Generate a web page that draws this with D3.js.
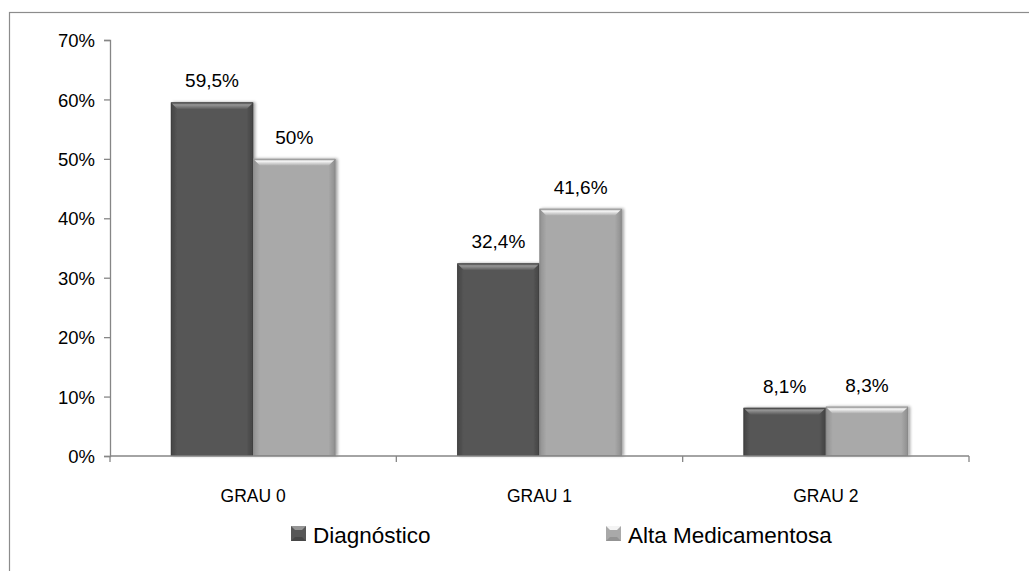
<!DOCTYPE html>
<html>
<head>
<meta charset="utf-8">
<script src="https://cdn.jsdelivr.net/npm/d3@7"></script>
<style>
  html, body { margin: 0; padding: 0; background: #fff; }
  svg { display: block; }
  text { font-family: "Liberation Sans", Arial, sans-serif; fill: #000; }
</style>
</head>
<body>
<svg id="chart" width="1029" height="571"></svg>
<script>
// Categories, series and values (shares)
const categories = ["GRAU 0", "GRAU 1", "GRAU 2"];
const seriesNames = ["Diagnóstico", "Alta Medicamentosa"];
const diagnostico = [0.595, 0.324, 0.081];
const altaMedicamentosa = [0.50, 0.416, 0.083];
const valueLabels = [["59,5%", "50%"], ["32,4%", "41,6%"], ["8,1%", "8,3%"]];
const yTicks = [0, 0.1, 0.2, 0.3, 0.4, 0.5, 0.6, 0.7];

const seriesValues = [diagnostico, altaMedicamentosa];
const palette = [
  { base: "#575757", light: "#959595", dark: "#404040", edge: "#3c3c3c" },
  { base: "#a9a9a9", light: "#f4f4f4", dark: "#8a8a8a", edge: "#858585" }
];

const svg = d3.select("#chart");
const plot = { left: 110, right: 969, top: 40, bottom: 456 };

// Outer chart frame (continues past the right/bottom page edge)
svg.append("rect")
  .attr("x", 9.5).attr("y", 12.5)
  .attr("width", 1200).attr("height", 800)
  .attr("fill", "none").attr("stroke", "#8c8c8c").attr("stroke-width", 1.2);

const y = d3.scaleLinear().domain([0, 0.7]).range([plot.bottom, plot.top]);
const x0 = d3.scaleBand().domain(categories).range([plot.left, plot.right]).padding(0);
const x1 = d3.scaleBand().domain(seriesNames).range([0, x0.bandwidth()])
  .paddingInner(0).paddingOuter(0.74);

// Gradients for the bevelled bars
const defs = svg.append("defs");
palette.forEach((p, i) => {
  const gTop = defs.append("linearGradient").attr("id", "top" + i)
    .attr("x1", 0).attr("y1", 0).attr("x2", 0).attr("y2", 1);
  gTop.append("stop").attr("offset", "0%").attr("stop-color", p.base);
  gTop.append("stop").attr("offset", "35%").attr("stop-color", p.light);
  gTop.append("stop").attr("offset", "100%").attr("stop-color", p.base);
  const gL = defs.append("linearGradient").attr("id", "left" + i)
    .attr("x1", 0).attr("y1", 0).attr("x2", 1).attr("y2", 0);
  gL.append("stop").attr("offset", "0%").attr("stop-color", p.dark);
  gL.append("stop").attr("offset", "100%").attr("stop-color", p.base);
  const gR = defs.append("linearGradient").attr("id", "right" + i)
    .attr("x1", 0).attr("y1", 0).attr("x2", 1).attr("y2", 0);
  gR.append("stop").attr("offset", "0%").attr("stop-color", p.base);
  gR.append("stop").attr("offset", "100%").attr("stop-color", p.dark);
});
const shadow = defs.append("filter").attr("id", "shadow")
  .attr("x", "-20%").attr("y", "-20%").attr("width", "140%").attr("height", "140%");
shadow.append("feGaussianBlur").attr("in", "SourceAlpha").attr("stdDeviation", 1.5);
shadow.append("feOffset").attr("dx", 2).attr("dy", 0).attr("result", "b");
shadow.append("feComponentTransfer").append("feFuncA").attr("type", "linear").attr("slope", 0.35);
const merge = shadow.append("feMerge");
merge.append("feMergeNode");
merge.append("feMergeNode").attr("in", "SourceGraphic");

// Y axis: line, ticks, labels
const yAxis = svg.append("g").attr("transform", `translate(${plot.left},0)`)
  .call(d3.axisLeft(y).tickValues(yTicks).tickSize(6).tickPadding(9)
    .tickFormat(d => Math.round(d * 100) + "%"));
yAxis.select(".domain").attr("stroke", "#868686").attr("stroke-width", 1.3);
yAxis.selectAll(".tick line").attr("stroke", "#868686").attr("stroke-width", 1.3);
yAxis.selectAll(".tick text")
  .attr("font-family", "Liberation Sans, Arial, sans-serif")
  .attr("font-size", 18.5).attr("fill", "#000").attr("dy", "0.36em");

// Bars
const groups = svg.append("g").selectAll("g").data(categories).join("g")
  .attr("transform", d => `translate(${x0(d)},0)`);

categories.forEach((cat, ci) => {
  const g = groups.filter(d => d === cat);
  seriesNames.forEach((s, si) => {
    const v = seriesValues[si][ci];
    const bx = x1(s), bw = x1.bandwidth();
    const by = y(v), bh = y(0) - y(v);
    const bev = Math.min(7, bh / 2);
    const bar = g.append("g").attr("filter", "url(#shadow)");
    bar.append("rect").attr("x", bx).attr("y", by).attr("width", bw).attr("height", bh)
      .attr("fill", palette[si].base);
    // left and right bevel strips
    bar.append("polygon")
      .attr("points", [[bx, by], [bx + bev, by + bev], [bx + bev, y(0)], [bx, y(0)]].join(" "))
      .attr("fill", `url(#left${si})`).attr("opacity", 0.8);
    bar.append("polygon")
      .attr("points", [[bx + bw, by], [bx + bw - bev, by + bev], [bx + bw - bev, y(0)], [bx + bw, y(0)]].join(" "))
      .attr("fill", `url(#right${si})`).attr("opacity", 0.9);
    // top bevel
    bar.append("polygon")
      .attr("points", [[bx, by], [bx + bw, by], [bx + bw - bev, by + bev], [bx + bev, by + bev]].join(" "))
      .attr("fill", `url(#top${si})`);
    bar.append("rect").attr("x", bx + 0.5).attr("y", by + 0.5).attr("width", bw - 1).attr("height", bh - 1)
      .attr("fill", "none").attr("stroke", palette[si].edge).attr("stroke-width", 1).attr("opacity", 0.6);
    // value label
    g.append("text")
      .attr("x", bx + bw / 2).attr("y", by - 15)
      .attr("text-anchor", "middle").attr("font-size", 19)
      .text(valueLabels[ci][si]);
  });
});

// X axis
const xAxis = svg.append("g").attr("transform", `translate(0,${plot.bottom})`);
xAxis.append("line").attr("x1", plot.left).attr("x2", plot.right)
  .attr("stroke", "#868686").attr("stroke-width", 1.3);
const boundaries = categories.map(c => x0(c)).concat([plot.right]);
xAxis.selectAll("line.tk").data(boundaries).join("line").attr("class", "tk")
  .attr("x1", d => d).attr("x2", d => d).attr("y1", 0).attr("y2", 6)
  .attr("stroke", "#868686").attr("stroke-width", 1.3);
xAxis.selectAll("text").data(categories).join("text")
  .attr("x", d => x0(d) + x0.bandwidth() / 2).attr("y", 46)
  .attr("text-anchor", "middle").attr("font-size", 17.5)
  .text(d => d);

// Legend
const legendX = [291, 606];
const legend = svg.append("g");
seriesNames.forEach((s, si) => {
  const lg = legend.append("g").attr("transform", `translate(${legendX[si]},526)`);
  lg.append("rect").attr("width", 15).attr("height", 15).attr("fill", palette[si].base);
  lg.append("polygon").attr("points", "0,0 15,0 11,4 4,4").attr("fill", palette[si].light);
  lg.append("polygon").attr("points", "0,15 15,15 11,11 4,11").attr("fill", palette[si].dark).attr("opacity", 0.7);
  lg.append("text").attr("x", 22).attr("y", 16.5).attr("font-size", 22.5).text(s);
});
</script>
</body>
</html>
